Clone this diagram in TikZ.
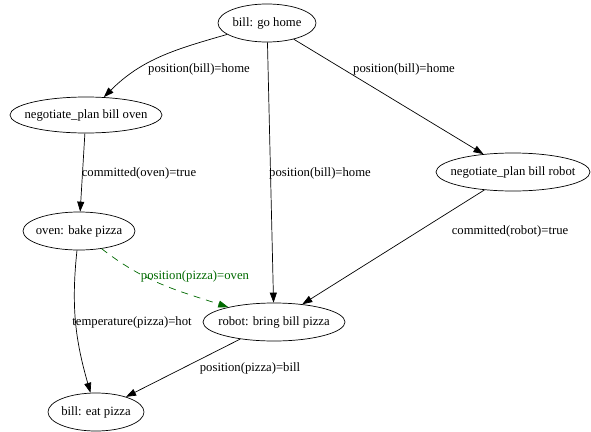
\documentclass[tikz,border=0pt]{standalone}
\usepackage{fontspec}
\setmainfont{Liberation Serif}
\usepackage{xcolor}
\usetikzlibrary{shapes.geometric, arrows.meta}
\definecolor{plangreen}{RGB}{0,105,0}
\tikzset{
    task/.style={ellipse, draw, line width=0.7pt, inner sep=0pt, font=\fontsize{12.7}{15}\selectfont,
        execute at begin node={\hbox to 0pt\bgroup\hss}, execute at end node={\hss\egroup}},
    edge/.style={-{Triangle[length=10pt,width=7pt]}, line width=0.7pt},
    cond/.style={inner sep=0pt, font=\fontsize{12.7}{15}\selectfont}
}

\begin{document}
\begin{tikzpicture}[x=1pt,y=-1pt]
    \useasboundingbox (0,0) rectangle (591,431);

    % Tasks
    \node[task, minimum width=98pt, minimum height=38pt] (gohome) at (267,23) {bill: go home};
    \node[task, minimum width=152pt, minimum height=36pt] (negoven) at (86,115) {negotiate\_plan bill oven};
    \node[task, minimum width=154pt, minimum height=38pt] (negrobot) at (513,172) {negotiate\_plan bill robot};
    \node[task, minimum width=112pt, minimum height=38pt] (bake) at (79,231) {oven: bake pizza};
    \node[task, minimum width=142pt, minimum height=38pt] (bring) at (274,322) {robot: bring bill pizza};
    \node[task, minimum width=96pt, minimum height=38pt] (eat) at (96,412) {bill: eat pizza};

    % Conditions
    \node[cond] (homeA) at (199,69) {position(bill)=home};
    \node[cond] (homeB) at (404,69) {position(bill)=home};
    \node[cond] (homeC) at (320,173) {position(bill)=home};
    \node[cond] (ovenok) at (139,173) {committed(oven)=true};
    \node[cond] (robotok) at (510,231) {committed(robot)=true};
    \node[cond, text=plangreen] (atoven) at (195,276) {position(pizza)=oven};
    \node[cond] (hot) at (132,322) {temperature(pizza)=hot};
    \node[cond] (atbill) at (250,368) {position(pizza)=bill};

    % Ordering links
    \draw[edge] (gohome) to[out=196, in=45] (negoven);
    \draw[edge] (gohome) -- (negrobot);
    \draw[edge] (gohome) -- (bring);
    \draw[edge] (negoven) -- (bake);
    \draw[edge] (negrobot) -- (bring);
    \draw[edge, plangreen, dashed, dash pattern=on 7pt off 6pt] (bake) to[out=-38, in=162] (bring);
    \draw[edge] (bake) to[out=-96, in=106] (eat);
    \draw[edge] (bring) -- (eat);
\end{tikzpicture}
\end{document}
